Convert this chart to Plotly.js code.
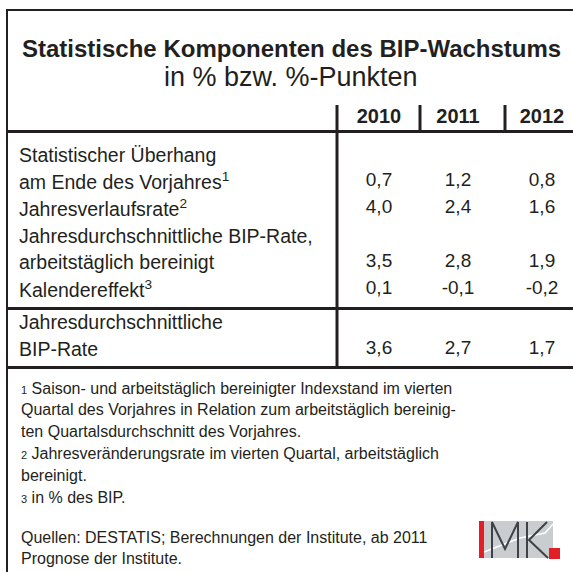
<!DOCTYPE html>
<html>
<head>
<meta charset="utf-8">
<script src="https://cdn.plot.ly/plotly-3.0.1.min.js"></script>
<style>
  html, body { margin: 0; padding: 0; background: #fff; }
  #chart { width: 573px; height: 572px; }
</style>
</head>
<body>
<div id="chart"></div>
<script>
// ---------- data ----------
const titleText = 'Statistische Komponenten des BIP-Wachstums';
const subtitleText = 'in % bzw. %-Punkten';
const years = ['2010', '2011', '2012'];
const rowLabels = [
  'Statistischer Überhang',
  'am Ende des Vorjahres<sup>1</sup>',
  'Jahresverlaufsrate<sup>2</sup>',
  'Jahresdurchschnittliche BIP-Rate,',
  'arbeitstäglich bereinigt',
  'Kalendereffekt<sup>3</sup>',
  'Jahresdurchschnittliche',
  'BIP-Rate'
];
const ueberhang = [0.7, 1.2, 0.8];
const jahresverlaufsrate = [4.0, 2.4, 1.6];
const bipArbeitstaeglich = [3.5, 2.8, 1.9];
const kalendereffekt = [0.1, -0.1, -0.2];
const bipRate = [3.6, 2.7, 1.7];
const footnoteMarks = ['1', '', '', '2', '', '3'];
const footnotes = [
  'Saison- und arbeitstäglich bereinigter Indexstand im vierten',
  'Quartal des Vorjahres in Relation zum arbeitstäglich bereinig-',
  'ten Quartalsdurchschnitt des Vorjahres.',
  'Jahresveränderungsrate im vierten Quartal, arbeitstäglich',
  'bereinigt.',
  'in % des BIP.'
];
const sourceLines = [
  'Quellen: DESTATIS; Berechnungen der Institute, ab 2011',
  'Prognose der Institute.'
];

// series -> line index of the label block where the value is printed
const valueRows = [
  {values: ueberhang, line: 1},
  {values: jahresverlaufsrate, line: 2},
  {values: bipArbeitstaeglich, line: 4},
  {values: kalendereffekt, line: 5},
  {values: bipRate, line: 7}
];

// ---------- layout constants (pixel space) ----------
const W = 573, H = 572;
const FONT = 'Liberation Sans, Arial, Helvetica, sans-serif';
const TXT = '#231f20';
const LINE = '#231f20';
const colX = [379, 458, 542];
const headerY = 118;
const lineY = [155, 181, 208, 236, 262, 289, 322, 349];
const labelX = 17;
const footY0 = 388, footStep = 21.8;
const srcY0 = 537;

const fmt = v => v.toFixed(1).replace('.', ',');

const vx = [], vy = [], vt = [];
valueRows.forEach(r => {
  r.values.forEach((v, j) => { vx.push(colX[j]); vy.push(lineY[r.line]); vt.push(fmt(v)); });
});

const traces = [
  {
    type: 'scatter', mode: 'text', x: vx, y: vy, text: vt,
    textposition: 'middle center', cliponaxis: false, hoverinfo: 'skip',
    textfont: {family: FONT, size: 19, color: TXT}, showlegend: false
  },
  {
    type: 'scatter', mode: 'text', x: colX, y: years.map(() => headerY), text: years.map(y => '<b>' + y + '</b>'),
    textposition: 'middle center', cliponaxis: false, hoverinfo: 'skip',
    textfont: {family: FONT, size: 20, color: TXT}, showlegend: false
  }
];

const annotations = [];
annotations.push({x: 291, y: 48, text: '<b>' + titleText + '</b>', showarrow: false,
  xanchor: 'center', yanchor: 'middle', font: {family: FONT, size: 24, color: TXT}});
annotations.push({x: 291, y: 77, text: subtitleText, showarrow: false,
  xanchor: 'center', yanchor: 'middle', font: {family: FONT, size: 27, color: TXT}});
rowLabels.forEach((t, i) => annotations.push({x: labelX, y: lineY[i], text: t, showarrow: false,
  xanchor: 'left', yanchor: 'middle', font: {family: FONT, size: 19.5, color: TXT}}));
footnotes.forEach((t, i) => {
  const mark = footnoteMarks[i] ? '<span style="font-size:11px">' + footnoteMarks[i] + '</span> ' : '';
  annotations.push({x: labelX + 2, y: footY0 + i * footStep, text: mark + t, showarrow: false,
    xanchor: 'left', yanchor: 'middle', font: {family: FONT, size: 16, color: TXT}});
});
sourceLines.forEach((t, i) => annotations.push({x: labelX + 2, y: srcY0 + i * footStep, text: t, showarrow: false,
  xanchor: 'left', yanchor: 'middle', font: {family: FONT, size: 16, color: TXT}}));

const ln = (x0, y0, x1, y1, w) => ({type: 'line', xref: 'x', yref: 'y', x0, y0, x1, y1,
  line: {color: LINE, width: w}});
const shapes = [
  ln(7, 10, W, 10, 2),
  ln(7, 9, 7, H, 2),
  ln(337, 105, 337, 131, 3),
  ln(420, 105, 420, 131, 3),
  ln(505, 105, 505, 131, 3),
  ln(7, 131.5, W, 131.5, 3),
  ln(337, 131, 337, 368, 3),
  ln(7, 308.5, W, 308.5, 3),
  ln(7, 367.5, W, 367.5, 3),
  // IMK logo
  {type: 'rect', xref: 'x', yref: 'y', x0: 479, x1: 553, y0: 521, y1: 558, fillcolor: '#c9cdd0', line: {width: 0}},
  {type: 'path', xref: 'x', yref: 'y', path: 'M 484 552 L 520 538 L 545 533 L 553 524', line: {color: '#ffffff', width: 1.5}},
  {type: 'rect', xref: 'x', yref: 'y', x0: 479, x1: 484, y0: 521, y1: 558, fillcolor: '#e31e24', line: {width: 0}},
  {type: 'path', xref: 'x', yref: 'y', path: 'M 492 558 L 492 522 L 505 549 L 518 522 L 518 558', line: {color: '#3d4246', width: 2}},
  {type: 'path', xref: 'x', yref: 'y', path: 'M 527 522 L 527 558 M 547 522 L 529 540 L 548 558', line: {color: '#3d4246', width: 2}},
  {type: 'rect', xref: 'x', yref: 'y', x0: 549, x1: 560, y0: 548, y1: 559, fillcolor: '#e31e24', line: {width: 0}}
];

const layout = {
  width: W, height: H,
  margin: {l: 0, r: 0, t: 0, b: 0},
  paper_bgcolor: '#ffffff', plot_bgcolor: '#ffffff',
  xaxis: {range: [0, W], visible: false, fixedrange: true},
  yaxis: {range: [H, 0], visible: false, fixedrange: true},
  showlegend: false,
  annotations, shapes
};

Plotly.newPlot('chart', traces, layout, {displayModeBar: false, staticPlot: true});
</script>
</body>
</html>
